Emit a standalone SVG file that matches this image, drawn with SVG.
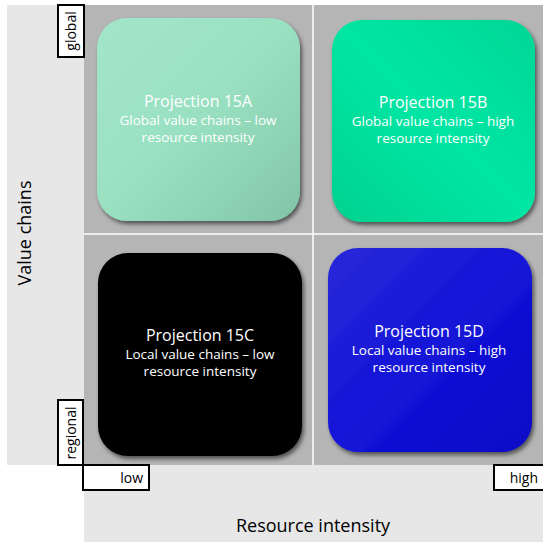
<svg xmlns="http://www.w3.org/2000/svg" width="543" height="542" viewBox="0 0 543 542">
<defs>
<style>
.ttl{font-family:"Open Sans","Liberation Sans",sans-serif;font-size:16px;fill:#ffffff;text-anchor:middle}
.sub{font-family:"Open Sans","Liberation Sans",sans-serif;font-size:13.5px;fill:#ffffff;text-anchor:middle}
.ax{font-family:"Open Sans","Liberation Sans",sans-serif;font-size:18px;fill:#000000}
.tick{font-family:"Open Sans","Liberation Sans",sans-serif;font-size:14px;fill:#000000}
.lbl{fill:#ffffff;stroke:#000000;stroke-width:2}
</style>
<filter id="sh" x="-10%" y="-10%" width="125%" height="125%">
<feDropShadow dx="2" dy="3" stdDeviation="2" flood-color="#000000" flood-opacity="0.55"/>
</filter>
<linearGradient id="gA" x1="0" y1="0" x2="1" y2="1">
<stop offset="0" stop-color="#a3e6ca"/>
<stop offset="0.5" stop-color="#99e0c1"/>
<stop offset="1" stop-color="#80c6a6"/>
</linearGradient>
<linearGradient id="gB" x1="0" y1="1" x2="1" y2="0">
<stop offset="0" stop-color="#00d28f"/>
<stop offset="0.5" stop-color="#00e6a4"/>
<stop offset="1" stop-color="#00d696"/>
</linearGradient>
<linearGradient id="gD" x1="0" y1="0" x2="1" y2="1">
<stop offset="0" stop-color="#2a2ad8"/>
<stop offset="0.5" stop-color="#1414d8"/>
<stop offset="1" stop-color="#0606c6"/>
</linearGradient>
</defs>
<rect x="0" y="0" width="543" height="542" fill="#ffffff"/>
<g id="background">
<rect x="7" y="5" width="77" height="460" fill="#e7e7e7"/>
<rect x="84" y="465" width="459" height="77" fill="#e7e7e7"/>
<rect x="84" y="5" width="459" height="460" fill="#b5b5b5"/>
<line x1="313" y1="5" x2="313" y2="465" stroke="#ffffff" stroke-width="1.5"/>
<line x1="84" y1="234" x2="543" y2="234" stroke="#ffffff" stroke-width="1.5"/>
</g>
<g id="node-15A">
<rect x="97" y="18" width="203" height="203" rx="30" fill="url(#gA)" filter="url(#sh)"/>
<text class="ttl" x="198" y="107">Projection 15A</text>
<text class="sub" x="198" y="125">Global value chains – low</text>
<text class="sub" x="198" y="142">resource intensity</text>
</g>
<g id="node-15B">
<rect x="332" y="20" width="203" height="202" rx="30" fill="url(#gB)" filter="url(#sh)"/>
<text class="ttl" x="433" y="108">Projection 15B</text>
<text class="sub" x="433" y="126">Global value chains – high</text>
<text class="sub" x="433" y="143">resource intensity</text>
</g>
<g id="node-15C">
<rect x="98" y="253" width="204" height="203" rx="30" fill="#000000" filter="url(#sh)"/>
<text class="ttl" x="200" y="341">Projection 15C</text>
<text class="sub" x="200" y="359">Local value chains – low</text>
<text class="sub" x="200" y="376">resource intensity</text>
</g>
<g id="node-15D">
<rect x="328" y="248" width="204" height="204" rx="30" fill="url(#gD)" filter="url(#sh)"/>
<text class="ttl" x="429" y="337">Projection 15D</text>
<text class="sub" x="429" y="355">Local value chains – high</text>
<text class="sub" x="429" y="372">resource intensity</text>
</g>
<g id="axis-value-chains">
<text class="ax" transform="translate(31,233) rotate(-90)" text-anchor="middle">Value chains</text>
<rect class="lbl" x="58" y="5" width="26" height="52"/>
<text class="tick" transform="translate(76,31) rotate(-90)" text-anchor="middle">global</text>
<rect class="lbl" x="58" y="400" width="25" height="65"/>
<text class="tick" transform="translate(76,433) rotate(-90)" text-anchor="middle">regional</text>
</g>
<g id="axis-resource-intensity">
<text class="ax" x="313" y="532" text-anchor="middle">Resource intensity</text>
<rect class="lbl" x="83" y="465" width="66" height="25"/>
<text class="tick" x="143" y="483" text-anchor="end">low</text>
<rect class="lbl" x="494" y="465" width="50" height="25"/>
<text class="tick" x="538" y="483" text-anchor="end">high</text>
</g>
<g id="connectors"/>
</svg>
